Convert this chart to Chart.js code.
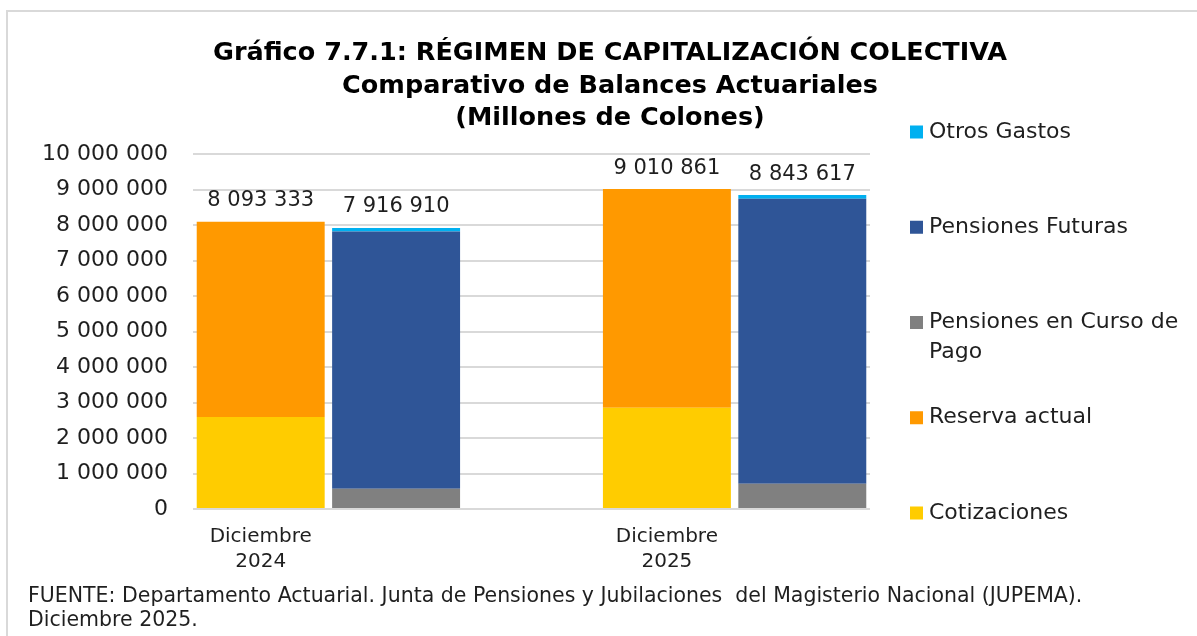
<!DOCTYPE html>
<html>
<head>
<meta charset="utf-8">
<script src="https://cdn.jsdelivr.net/npm/chart.js@4.4.1/dist/chart.umd.min.js"></script>
<style>
  html, body { margin: 0; padding: 0; background: #ffffff; }
  #wrap { position: relative; width: 1197px; height: 636px; }
  canvas { display: block; }
</style>
</head>
<body>
<div id="wrap"><canvas id="c" width="1197" height="636"></canvas></div>
<script>
// ---------- Data ----------
const categories = [["Diciembre", "2024"], ["Diciembre", "2025"]];
const cotizaciones = [2590000, 2850000];
const reservaActual = [5503333, 6160861];
const pensionesCursoPago = [570000, 710000];
const pensionesFuturas = [7250000, 8030000];
const otrosGastos = [96910, 103617];
const totalIngresos = [8093333, 9010861];
const totalEgresos = [7916910, 8843617];
const yTickValues = [0, 1000000, 2000000, 3000000, 4000000, 5000000, 6000000, 7000000, 8000000, 9000000, 10000000];

const titleLines = [
  "Gráfico 7.7.1: RÉGIMEN DE CAPITALIZACIÓN COLECTIVA",
  "Comparativo de Balances Actuariales",
  "(Millones de Colones)"
];
const footerLines = [
  "FUENTE: Departamento Actuarial. Junta de Pensiones y Jubilaciones  del Magisterio Nacional (JUPEMA).",
  "Diciembre 2025."
];

// ---------- Slot layout: [ingresos, egresos, (gap), ingresos, egresos] ----------
const slotLabels = [];
const slotKind = []; // 'ing' | 'egr' | 'gap'
const slotCat = [];
categories.forEach((c, i) => {
  if (i > 0) { slotLabels.push(""); slotKind.push("gap"); slotCat.push(-1); }
  slotLabels.push(c); slotKind.push("ing"); slotCat.push(i);
  slotLabels.push(""); slotKind.push("egr"); slotCat.push(i);
});
function spread(arr, kind) {
  return slotKind.map((k, s) => (k === kind ? arr[slotCat[s]] : null));
}

const fmt = v => String(Math.round(v)).replace(/\B(?=(\d{3})+(?!\d))/g, " ");
const FONT = "'DejaVu Sans', sans-serif";
const TXT = "#1f1f1f";

const datasets = [
  { label: "Cotizaciones", data: spread(cotizaciones, "ing"), backgroundColor: "#FFCC00" },
  { label: "Reserva actual", data: spread(reservaActual, "ing"), backgroundColor: "#FF9900" },
  { label: "Pensiones en Curso de Pago", data: spread(pensionesCursoPago, "egr"), backgroundColor: "#808080" },
  { label: "Pensiones Futuras", data: spread(pensionesFuturas, "egr"), backgroundColor: "#2F5597" },
  { label: "Otros Gastos", data: spread(otrosGastos, "egr"), backgroundColor: "#00B0F0" }
];
datasets.forEach(d => { d.borderWidth = 0; d.categoryPercentage = 1; d.barPercentage = 0.945; });

const decorPlugin = {
  id: "decor",
  beforeDraw(chart) {
    const ctx = chart.ctx;
    ctx.save();
    ctx.fillStyle = "#ffffff";
    ctx.fillRect(0, 0, chart.width, chart.height);
    ctx.strokeStyle = "#d9d9d9";
    ctx.lineWidth = 2;
    ctx.beginPath();
    ctx.moveTo(7, chart.height);
    ctx.lineTo(7, 11);
    ctx.lineTo(chart.width, 11);
    ctx.stroke();
    ctx.restore();
  },
  afterDraw(chart) {
    const ctx = chart.ctx;
    const y = chart.scales.y;
    const x = chart.scales.x;
    ctx.save();
    // Title
    ctx.fillStyle = "#000000";
    ctx.textAlign = "center";
    ctx.textBaseline = "alphabetic";
    ctx.font = "bold 25.5px " + FONT;
    const titleBase = [60, 93, 125];
    titleLines.forEach((t, i) => ctx.fillText(t, 610, titleBase[i]));

    // Totals above bars
    ctx.fillStyle = TXT;
    ctx.font = "21px " + FONT;
    ctx.textAlign = "center";
    ctx.textBaseline = "middle";
    slotKind.forEach((k, s) => {
      if (k === "gap") return;
      const total = k === "ing" ? totalIngresos[slotCat[s]] : totalEgresos[slotCat[s]];
      const px = x.getPixelForValue(s);
      const py = y.getPixelForValue(total) - 21;
      ctx.fillText(fmt(total), px, py);
    });

    // Legend (reverse order, like the reference)
    ctx.textAlign = "left";
    ctx.textBaseline = "middle";
    ctx.font = "22px " + FONT;
    const legX = 910, textX = 929, maxW = chart.width - textX - 4;
    const startY = 132, step = 95.25, lineH = 30;
    const items = chart.data.datasets.slice().reverse();
    items.forEach((d, i) => {
      const cy = startY + i * step;
      ctx.fillStyle = d.backgroundColor;
      ctx.fillRect(legX, cy - 6.5, 13, 13);
      ctx.fillStyle = TXT;
      const words = d.label.split(" ");
      const lines = [];
      let cur = "";
      words.forEach(w => {
        const test = cur ? cur + " " + w : w;
        if (ctx.measureText(test).width > maxW && cur) { lines.push(cur); cur = w; }
        else cur = test;
      });
      lines.push(cur);
      lines.forEach((l, j) => ctx.fillText(l, textX, cy + j * lineH));
    });

    // Footer
    ctx.font = "20.5px " + FONT;
    ctx.textBaseline = "alphabetic";
    ctx.fillStyle = TXT;
    ctx.fillText(footerLines[0], 28, 602);
    ctx.fillText(footerLines[1], 28, 626);
    ctx.restore();
  }
};

new Chart(document.getElementById("c"), {
  type: "bar",
  data: { labels: slotLabels, datasets },
  options: {
    responsive: false,
    animation: false,
    events: [],
    layout: { padding: { left: 0, right: 327, top: 154, bottom: 57 } },
    plugins: { legend: { display: false }, title: { display: false }, tooltip: { enabled: false } },
    scales: {
      x: {
        stacked: true,
        grid: { display: false, drawTicks: false },
        border: { display: false },
        afterFit(scale) { scale.height = 70; },
        ticks: {
          autoSkip: false, maxRotation: 0, minRotation: 0, padding: 15,
          color: TXT, font: { family: FONT, size: 20, lineHeight: 1.25 }
        }
      },
      y: {
        stacked: true,
        min: 0, max: 10000000,
        afterFit(scale) { scale.width = 193; },
        afterBuildTicks(scale) { scale.ticks = yTickValues.map(v => ({ value: v })); },
        grid: { color: "#d9d9d9", lineWidth: 2, drawTicks: false },
        border: { display: false },
        ticks: {
          padding: 25, color: TXT,
          font: { family: FONT, size: 22 },
          callback: v => fmt(v)
        }
      }
    }
  },
  plugins: [decorPlugin]
});
</script>
</body>
</html>
